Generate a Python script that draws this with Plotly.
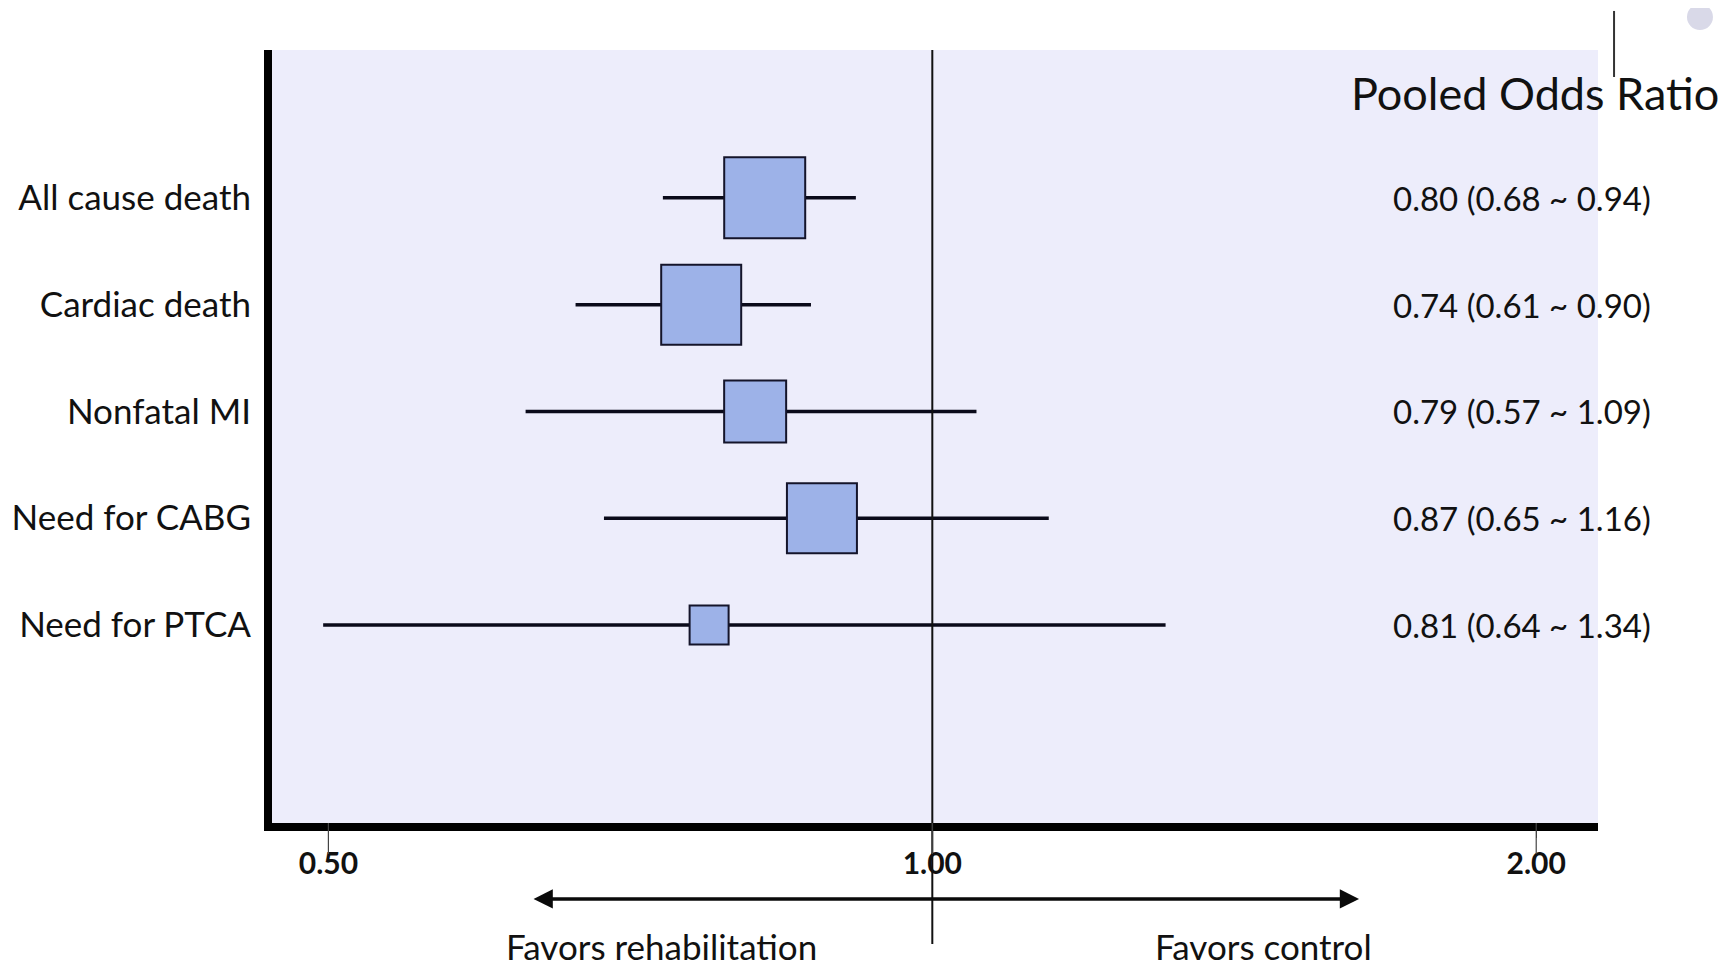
import plotly.graph_objects as go
import math

outcomes = ["All cause death", "Cardiac death", "Nonfatal MI", "Need for CABG", "Need for PTCA"]
or_labels = ["0.80 (0.68 ~ 0.94)", "0.74 (0.61 ~ 0.90)", "0.79 (0.57 ~ 1.09)",
             "0.87 (0.65 ~ 1.16)", "0.81 (0.64 ~ 1.34)"]
# values as drawn on the (log) axis of the picture
or_point = [0.825, 0.767, 0.816, 0.881, 0.774]
ci_low = [0.734, 0.664, 0.627, 0.686, 0.497]
ci_high = [0.916, 0.870, 1.052, 1.143, 1.307]
tick_vals = [0.5, 1.0, 2.0]
tick_text = ["0.50", "1.00", "2.00"]

box_px = [81, 80, 62, 70, 39]

FONT = "Lato"
ink = "#111111"
fig = go.Figure()

rows = list(range(len(outcomes)))
for i in rows:
    fig.add_trace(go.Scatter(x=[ci_low[i], ci_high[i]], y=[i, i], mode="lines",
                             line=dict(color="#0a0a1a", width=3.5),
                             showlegend=False, hoverinfo="skip"))

fig.add_trace(go.Scatter(x=or_point, y=rows, mode="markers",
                         marker=dict(symbol="square", size=box_px, color="#9DB2E8", opacity=1,
                                     line=dict(color="#14142a", width=2)),
                         showlegend=False))

# right column of pooled odds ratios
for i in rows:
    fig.add_annotation(x=0.8439, xref="paper", y=i, yref="y", text=or_labels[i],
                       showarrow=False, xanchor="left", yanchor="middle",
                       font=dict(family=FONT, size=33, color=ink))
fig.add_annotation(x=0.8122, xref="paper", y=0.9449, yref="paper", text="Pooled Odds Ratio",
                   showarrow=False, xanchor="left", yanchor="middle",
                   font=dict(family=FONT, size=45, color=ink))

# reference line at OR = 1
fig.add_shape(type="line", xref="x", yref="paper", x0=1.0, x1=1.0, y0=1.0, y1=-0.1565,
              line=dict(color="#111111", width=2), layer="above")

# long thin tick marks reaching into the tick labels
for tv in tick_vals:
    fig.add_shape(type="line", xref="x", yref="paper", x0=tv, x1=tv, y0=0, y1=-0.04,
                  line=dict(color="#444444", width=1.2), layer="above")

# direction arrow
fig.add_annotation(x=0.8198, xref="paper", y=-0.0983, yref="paper", ax=-827, ay=0,
                   text="", showarrow=True, arrowhead=2, arrowside="end+start",
                   arrowwidth=3.5, arrowsize=1.1, arrowcolor="#0a0a0a")
fig.add_annotation(x=0.2934, xref="paper", y=-0.1585, yref="paper", text="Favors rehabilitation",
                   showarrow=False, xanchor="center", yanchor="middle",
                   font=dict(family=FONT, size=35, color=ink))
fig.add_annotation(x=0.748, xref="paper", y=-0.1585, yref="paper", text="Favors control",
                   showarrow=False, xanchor="center", yanchor="middle",
                   font=dict(family=FONT, size=35, color=ink))

# slide artifacts at top right
fig.add_shape(type="line", xref="paper", yref="paper", x0=1.0121, x1=1.0121, y0=1.0505, y1=0.9651,
              line=dict(color="#333333", width=2))
fig.add_shape(type="circle", xref="paper", yref="paper", x0=1.0671, x1=1.0867, y0=1.0259, y1=1.0595,
              fillcolor="#D9D9E8", line=dict(width=0))

lo = -1.0934 * math.log10(2)
hi = 1.1023 * math.log10(2)
fig.update_xaxes(type="log", range=[lo, hi], tickvals=tick_vals, ticktext=tick_text,
                 showgrid=False, zeroline=False, showline=True, linewidth=8, linecolor="black",
                 ticks="outside", ticklen=7, tickwidth=1.2, tickcolor="#444444", automargin=False,
                 tickfont=dict(family=FONT, size=30, color=ink, weight=700))
fig.update_yaxes(range=[5.855, -1.385], tickvals=rows, ticktext=outcomes,
                 showgrid=False, zeroline=False, showline=True, linewidth=8, linecolor="black",
                 ticks="", ticklabelstandoff=6, automargin=False,
                 tickfont=dict(family=FONT, size=35, color=ink))

fig.update_layout(width=1728, height=964, margin=dict(l=264, r=138, t=42, b=149),
                  plot_bgcolor="#EDEDFB", paper_bgcolor="white", showlegend=False)

fig.write_html("out.html")
